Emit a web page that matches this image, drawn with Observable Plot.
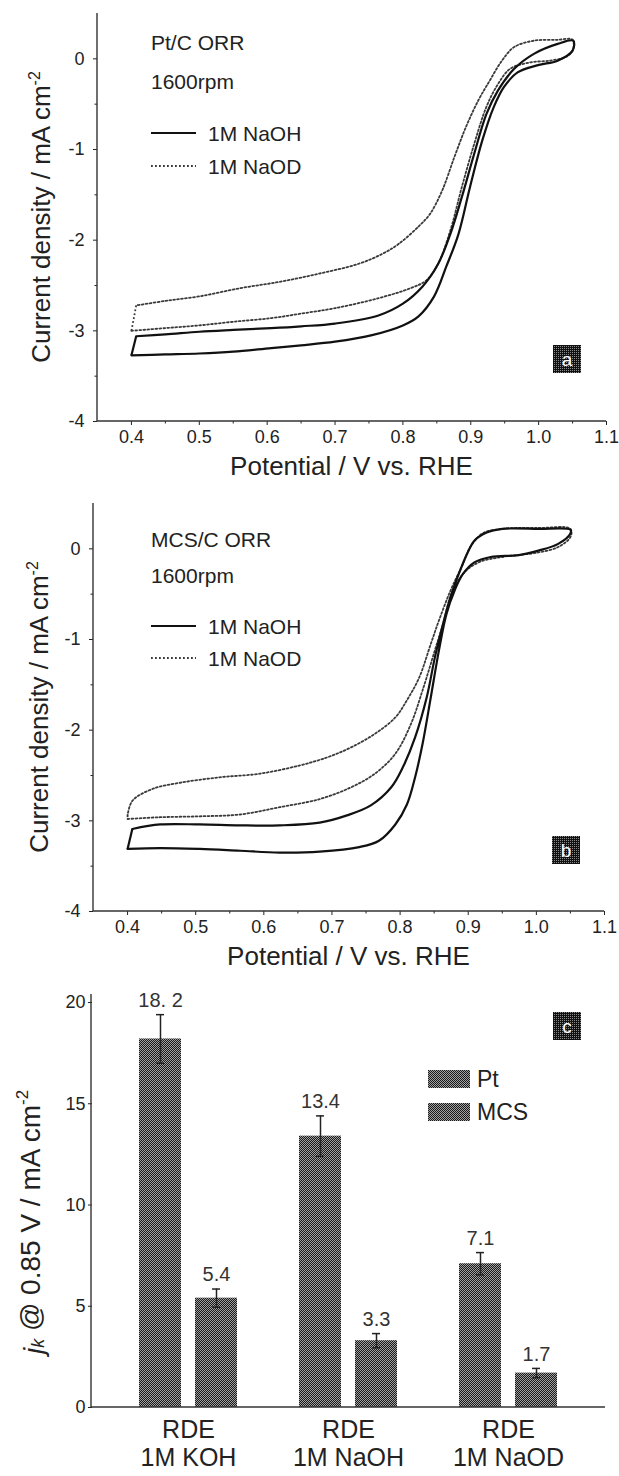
<!DOCTYPE html>
<html><head><meta charset="utf-8">
<script src="https://cdn.jsdelivr.net/npm/d3@7"></script>
<script src="https://cdn.jsdelivr.net/npm/@observablehq/plot@0.6"></script>
<style>
body{margin:0;background:#fff;}
#wrap{width:619px;}
#wrap svg{display:block;overflow:visible;}
</style></head><body>
<svg width="0" height="0" style="position:absolute">
<defs>
<pattern id="chk" width="2" height="2" patternUnits="userSpaceOnUse">
<rect width="2" height="2" fill="#a0a0a0"/><rect width="1" height="1" fill="#1a1a1a"/><rect x="1" y="1" width="1" height="1" fill="#1a1a1a"/>
</pattern>
<pattern id="chkDark" width="2" height="2" patternUnits="userSpaceOnUse">
<rect width="2" height="2" fill="#111"/><rect width="1" height="1" fill="#8a8a8a"/>
</pattern>
</defs></svg>
<div id="wrap"></div>
<script>
// ---------- data ----------
const potentialTicks = [0.4,0.5,0.6,0.7,0.8,0.9,1.0,1.1];
const potentialMinor = [0.45,0.55,0.65,0.75,0.85,0.95,1.05];
const currentTicks = [-4,-3,-2,-1,0];
const currentMinor = [-3.5,-2.5,-1.5,-0.5];

// Panel a: Pt/C ORR, 1600 rpm  ([potential V, current density mA cm-2])
const ptNaOH_low = [[0.40,-3.27],[0.45,-3.26],[0.50,-3.25],[0.55,-3.23],[0.606,-3.19],[0.65,-3.16],[0.70,-3.12],[0.753,-3.05],[0.80,-2.94],[0.823,-2.84],[0.846,-2.62],[0.864,-2.29],[0.882,-1.93],[0.899,-1.41],[0.917,-0.90],[0.934,-0.53],[0.949,-0.31],[0.969,-0.15],[0.999,-0.07],[1.028,-0.02],[1.05,0.09]];
const ptNaOH_high = [[0.407,-3.06],[0.45,-3.04],[0.50,-3.01],[0.55,-2.99],[0.606,-2.97],[0.65,-2.95],[0.70,-2.92],[0.764,-2.83],[0.80,-2.70],[0.829,-2.51],[0.852,-2.26],[0.87,-1.93],[0.887,-1.52],[0.905,-1.05],[0.923,-0.61],[0.94,-0.35],[0.964,-0.11],[0.993,0.055],[1.028,0.165],[1.051,0.20]];
const ptNaOD_low = [[0.40,-3.00],[0.45,-2.97],[0.50,-2.94],[0.55,-2.90],[0.606,-2.86],[0.65,-2.81],[0.70,-2.75],[0.764,-2.64],[0.811,-2.53],[0.835,-2.44],[0.852,-2.26],[0.87,-1.89],[0.887,-1.41],[0.905,-0.94],[0.923,-0.53],[0.94,-0.28],[0.958,-0.11],[0.987,-0.04],[1.016,-0.02],[1.04,0.02],[1.05,0.09]];
const ptNaOD_high = [[0.407,-2.72],[0.45,-2.67],[0.50,-2.62],[0.56,-2.53],[0.618,-2.46],[0.676,-2.37],[0.735,-2.26],[0.77,-2.15],[0.794,-2.04],[0.823,-1.85],[0.84,-1.71],[0.858,-1.45],[0.876,-1.08],[0.893,-0.75],[0.911,-0.46],[0.928,-0.24],[0.946,-0.02],[0.964,0.13],[0.993,0.20],[1.028,0.21],[1.05,0.21]];

// Panel b: MCS/C ORR, 1600 rpm
const mcsNaOH_low = [[0.40,-3.31],[0.448,-3.30],[0.506,-3.31],[0.565,-3.33],[0.623,-3.35],[0.682,-3.34],[0.74,-3.29],[0.769,-3.22],[0.793,-3.04],[0.81,-2.82],[0.822,-2.52],[0.833,-2.15],[0.845,-1.64],[0.857,-1.12],[0.868,-0.72],[0.88,-0.46],[0.892,-0.28],[0.909,-0.15],[0.933,-0.09],[0.974,-0.07],[1.003,-0.02],[1.032,0.055],[1.05,0.17]];
const mcsNaOH_high = [[0.407,-3.09],[0.448,-3.04],[0.506,-3.04],[0.565,-3.05],[0.623,-3.05],[0.682,-3.02],[0.722,-2.94],[0.757,-2.83],[0.787,-2.63],[0.804,-2.41],[0.822,-2.08],[0.839,-1.64],[0.851,-1.20],[0.863,-0.83],[0.874,-0.53],[0.886,-0.28],[0.898,-0.06],[0.909,0.09],[0.927,0.18],[0.95,0.22],[1.003,0.22],[1.05,0.21]];
const mcsNaOD_low = [[0.40,-2.98],[0.448,-2.96],[0.506,-2.95],[0.565,-2.93],[0.623,-2.85],[0.682,-2.76],[0.728,-2.63],[0.763,-2.48],[0.793,-2.26],[0.816,-1.93],[0.833,-1.56],[0.851,-1.12],[0.863,-0.83],[0.874,-0.53],[0.892,-0.28],[0.915,-0.15],[0.95,-0.09],[1.003,-0.04],[1.032,0.02],[1.05,0.13]];
const mcsNaOD_high = [[0.40,-2.94],[0.407,-2.78],[0.436,-2.65],[0.477,-2.58],[0.535,-2.52],[0.594,-2.48],[0.652,-2.39],[0.693,-2.30],[0.728,-2.19],[0.763,-2.04],[0.793,-1.86],[0.81,-1.67],[0.828,-1.42],[0.845,-1.05],[0.857,-0.79],[0.874,-0.46],[0.892,-0.17],[0.903,0.02],[0.921,0.17],[0.95,0.22],[1.003,0.23],[1.05,0.22]];

// Panel c: kinetic current density at 0.85 V
const electrolytes = ["RDE\n1M KOH","RDE\n1M NaOH","RDE\n1M NaOD"];
const catalysts = ["Pt","MCS"];
const ptJk = [18.2,13.4,7.1];
const mcsJk = [5.4,3.3,1.7];
const ptErr = [1.2,1.0,0.55];
const mcsErr = [0.45,0.35,0.23];
const ptLabels = ["18. 2","13.4","7.1"];
const mcsLabels = ["5.4","3.3","1.7"];
const jkTicks = [0,5,10,15,20];

// ---------- helpers ----------
const W = 619;
const FONT = "'Liberation Sans', Arial, Helvetica, sans-serif";
const INK = "#222";
const DOT = {stroke: "#3a3a3a", strokeWidth: 1.8, strokeDasharray: "1.8,2.2"};
const SOLID = {stroke: "#111", strokeWidth: 2.2};
// one scan loop: low branch out, high branch back (open smooth path) + closing segment at the start potential
function scanMarks(low, high, style) {
  const path = low.concat(high.slice().reverse());
  return [
    Plot.line(path, {x: d => d[0], y: d => d[1], curve: "catmull-rom", ...style}),
    Plot.link([[high[0], low[0]]], {x1: d => d[0][0], y1: d => d[0][1], x2: d => d[1][0], y2: d => d[1][1], ...style})
  ];
}

function txt(g, x, y, s, o = {}) {
  const t = g.append("text").attr("x", x).attr("y", y)
    .attr("font-family", FONT).attr("font-size", o.size || 20)
    .attr("fill", o.fill || INK).attr("text-anchor", o.anchor || "start")
    .attr("dominant-baseline", "central");
  if (o.rotate) t.attr("transform", `rotate(${o.rotate},${x},${y})`);
  if (s != null) t.text(s);
  return t;
}
function axisLines(svg, left, right, top, bottom) {
  const g = svg.append("g").attr("stroke", "#333").attr("stroke-width", 1.4);
  g.append("line").attr("x1", left).attr("x2", left).attr("y1", top).attr("y2", bottom);
  g.append("line").attr("x1", left).attr("x2", right).attr("y1", bottom).attr("y2", bottom);
}
function letterBox(svg, x, y, letter) {
  svg.append("rect").attr("x", x).attr("y", y).attr("width", 28).attr("height", 28).attr("fill", "url(#chkDark)");
  txt(svg, x + 14, y + 14, letter, {size: 19, anchor: "middle", fill: "#fff"});
}

function cvPanel({mL, mR, naoh, naod, name, letter, ann}) {
  const plot = Plot.plot({
    width: W, height: 490,
    marginLeft: mL, marginRight: mR, marginTop: 13, marginBottom: 69,
    style: {fontFamily: FONT, fontSize: "18px", color: INK, background: "#fff", overflow: "visible"},
    x: {domain: [0.35, 1.1]},
    y: {domain: [-4, 0.5]},
    marks: [
      Plot.axisX(potentialTicks, {tickSize: 4, tickPadding: 5, tickFormat: d3.format(".1f"), label: null}),
      Plot.axisX(potentialMinor, {tickSize: 2.5, tickFormat: () => "", label: null}),
      Plot.axisY(currentTicks, {tickSize: 4, tickPadding: 9, tickFormat: d => String(d), label: null}),
      Plot.axisY(currentMinor, {tickSize: 2.5, tickFormat: () => "", label: null}),
      ...scanMarks(naod[0], naod[1], DOT),
      ...scanMarks(naoh[0], naoh[1], SOLID)
    ]
  });
  const svg = d3.select(plot);
  const xr = plot.scale("x").range, yr = plot.scale("y").range;
  axisLines(svg, xr[0], xr[1], yr[1], yr[0]);
  // axis titles
  const yt = txt(svg, ann.ytx, (yr[0] + yr[1]) / 2, null, {size: 26, anchor: "middle", rotate: -90});
  yt.append("tspan").text("Current density / mA cm");
  yt.append("tspan").attr("dy", "-0.45em").attr("font-size", 16).text("-2");
  txt(svg, (xr[0] + xr[1]) / 2, 466, "Potential / V vs. RHE", {size: 26, anchor: "middle"});
  // annotation + legend
  txt(svg, ann.x, ann.y1, name, {size: 21});
  txt(svg, ann.x, ann.y2, "1600rpm", {size: 21});
  svg.append("line").attr("x1", ann.x).attr("x2", ann.x + 45).attr("y1", ann.y3).attr("y2", ann.y3)
    .attr("stroke", SOLID.stroke).attr("stroke-width", SOLID.strokeWidth);
  svg.append("line").attr("x1", ann.x).attr("x2", ann.x + 45).attr("y1", ann.y4).attr("y2", ann.y4)
    .attr("stroke", DOT.stroke).attr("stroke-width", DOT.strokeWidth).attr("stroke-dasharray", DOT.strokeDasharray);
  txt(svg, ann.x + 57, ann.y3, "1M NaOH", {size: 21});
  txt(svg, ann.x + 57, ann.y4, "1M NaOD", {size: 21});
  letterBox(svg, ann.bx, ann.by, letter);
  return plot;
}

const wrap = document.getElementById("wrap");
wrap.append(cvPanel({mL: 97, mR: 13, naoh: [ptNaOH_low, ptNaOH_high], naod: [ptNaOD_low, ptNaOD_high],
  name: "Pt/C ORR", letter: "a", ann: {x: 151, y1: 42, y2: 81, y3: 133, y4: 166, ytx: 41, bx: 553, by: 345}}));
wrap.append(cvPanel({mL: 93, mR: 15, naoh: [mcsNaOH_low, mcsNaOH_high], naod: [mcsNaOD_low, mcsNaOD_high],
  name: "MCS/C ORR", letter: "b", ann: {x: 151, y1: 49, y2: 85, y3: 136, y4: 168, ytx: 39, bx: 552, by: 346}}));

// ---------- panel c ----------
const rows = electrolytes.flatMap((e, i) => [
  {cat: e, cata: catalysts[0], v: ptJk[i], err: ptErr[i], label: ptLabels[i]},
  {cat: e, cata: catalysts[1], v: mcsJk[i], err: mcsErr[i], label: mcsLabels[i]}
]);
const cML = 91, cMR = 14, fxOuter = 0.1;
const fxStep = (W - cML - cMR) / (electrolytes.length + 2 * fxOuter);
const plotC = Plot.plot({
  width: W, height: 496,
  marginLeft: cML, marginRight: cMR, marginTop: 22, marginBottom: 69,
  style: {fontFamily: FONT, fontSize: "18px", color: INK, background: "#fff", overflow: "visible"},
  fx: {domain: electrolytes, paddingInner: 0, paddingOuter: fxOuter},
  x: {domain: catalysts, paddingInner: 0.254, paddingOuter: 0.535, axis: null},
  y: {domain: [0, 20]},
  marks: [
    Plot.barY(rows, {fx: "cat", x: "cata", y: "v", fill: "url(#chk)"}),
    Plot.ruleX(rows, {fx: "cat", x: "cata", y1: d => d.v - d.err, y2: d => d.v + d.err, stroke: "#222", strokeWidth: 1.5}),
    Plot.tickY(rows, {fx: "cat", x: "cata", y: d => d.v + d.err, stroke: "#222", strokeWidth: 1.5, insetLeft: 17, insetRight: 17}),
    Plot.tickY(rows, {fx: "cat", x: "cata", y: d => d.v - d.err, stroke: "#222", strokeWidth: 1.5, insetLeft: 17, insetRight: 17}),
    Plot.text(rows, {fx: "cat", x: "cata", y: d => d.v + d.err, text: "label", dy: -14, fontSize: 20, fill: "#333"}),
    Plot.axisY(jkTicks, {tickSize: 4, tickPadding: 3, label: null, dx: -fxOuter * fxStep}),
    Plot.axisFx({anchor: "bottom", tickSize: 0, tickPadding: 11, label: null, fontSize: 25, lineHeight: 1.12})
  ]
});
{
  const svg = d3.select(plotC);
  const ys = plotC.scale("y");
  const y0 = ys.apply(0), y20 = ys.apply(20);
  axisLines(svg, cML, W - cMR, y20 - 8, y0);
  const yt = txt(svg, 33, 242, null, {size: 28, anchor: "middle", rotate: -90});
  yt.append("tspan").attr("font-style", "italic").text("j");
  yt.append("tspan").attr("font-style", "italic").attr("font-size", 18).attr("dy", "0.3em").text("k");
  yt.append("tspan").attr("dy", "-0.3em").text(" @ 0.85 V / mA cm");
  yt.append("tspan").attr("dy", "-0.45em").attr("font-size", 17).text("-2");
  // legend
  [[catalysts[0], 99], [catalysts[1], 132]].forEach(([k, y]) => {
    svg.append("rect").attr("x", 428).attr("y", y - 9).attr("width", 42).attr("height", 18).attr("fill", "url(#chk)");
    txt(svg, 477, y, k, {size: 23});
  });
  letterBox(svg, 553, 32, "c");
}
wrap.append(plotC);
</script>
</body></html>
